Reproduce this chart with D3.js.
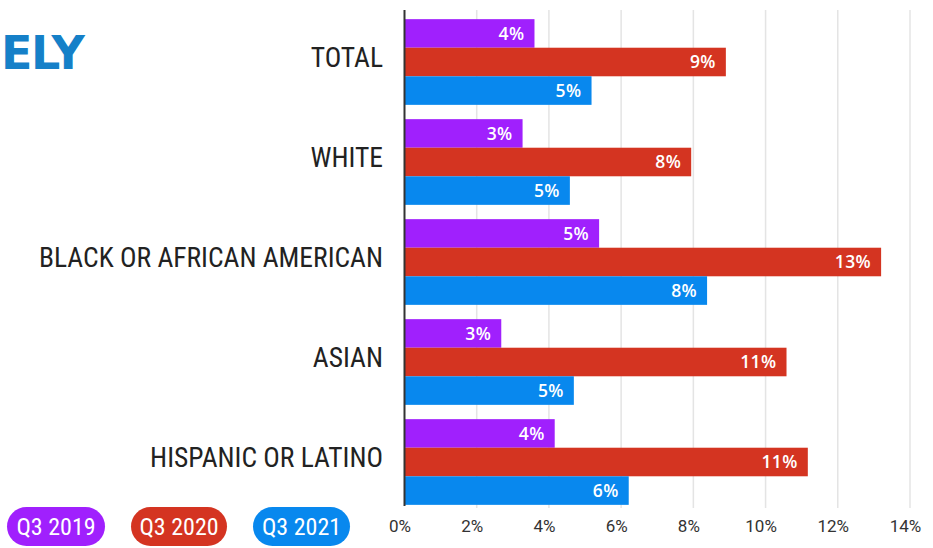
<!DOCTYPE html>
<html>
<head>
<meta charset="utf-8">
<script src="https://cdn.jsdelivr.net/npm/d3@7"></script>
<style>
  html, body { margin: 0; padding: 0; background: #fff; overflow: hidden; }
  svg { display: block; }
</style>
</head>
<body>
<svg id="chart" width="933" height="548"></svg>
<script>
const categories = ["TOTAL", "WHITE", "BLACK OR AFRICAN AMERICAN", "ASIAN", "HISPANIC OR LATINO"];
const seriesNames = ["Q3 2019", "Q3 2020", "Q3 2021"];
const q3_2019 = [3.6, 3.27, 5.39, 2.68, 4.16];
const q3_2020 = [8.9, 7.94, 13.2, 10.58, 11.17];
const q3_2021 = [5.18, 4.58, 8.38, 4.69, 6.21];
const xTicks = [0, 2, 4, 6, 8, 10, 12, 14];
const colors = ["#a020fd", "#d43421", "#0888ee"];

const seriesValues = [q3_2019, q3_2020, q3_2021];
const svg = d3.select("#chart");

const x = d3.scaleLinear().domain([0, 14]).range([404.5, 910]);
const y = d3.scaleBand().domain(categories).range([12, 512]).paddingInner(0.143).paddingOuter(0.0715);
const ySub = d3.scaleBand().domain(seriesNames).range([0, y.bandwidth()]);

// logo fragment
svg.append("text")
  .attr("x", 1).attr("y", 69)
  .attr("font-family", "'DejaVu Sans', sans-serif")
  .attr("font-weight", 700)
  .attr("font-size", 46)
  .attr("fill", "#1580c8")
  .attr("letter-spacing", -1.5)
  .text("ELY");

// gridlines
svg.append("g").selectAll("line").data(xTicks.filter(d => d > 0)).join("line")
  .attr("x1", d => x(d)).attr("x2", d => x(d))
  .attr("y1", 10).attr("y2", 508)
  .attr("stroke", "#e4e4e4").attr("stroke-width", 1.5);

// x axis tick labels
const xAxis = d3.axisBottom(x).tickValues(xTicks).tickSize(0).tickFormat(d => d + "%");
const gx = svg.append("g").attr("transform", "translate(-5,517)").call(xAxis);
gx.select(".domain").remove();
gx.selectAll("text")
  .attr("font-family", "'Liberation Sans Narrow', 'Roboto', sans-serif")
  .attr("font-size", 17)
  .attr("fill", "#333");

// bars
const groups = svg.append("g").selectAll("g").data(categories).join("g")
  .attr("transform", d => `translate(0,${y(d)})`);

groups.each(function(cat, ci) {
  const g = d3.select(this);
  seriesNames.forEach((s, si) => {
    const v = seriesValues[si][ci];
    g.append("rect")
      .attr("x", x(0)).attr("y", ySub(s))
      .attr("width", x(v) - x(0)).attr("height", ySub.bandwidth())
      .attr("fill", colors[si]);
    g.append("text")
      .attr("x", x(v) - 10).attr("y", ySub(s) + ySub.bandwidth() / 2)
      .attr("dy", "0.36em")
      .attr("text-anchor", "end")
      .attr("font-family", "'Open Sans', Lato, sans-serif")
      .attr("font-weight", 600)
      .attr("font-size", 17.5)
      .attr("letter-spacing", 0.4)
      .attr("fill", "#fff")
      .text(Math.round(v) + "%");
  });
});

// y axis line
svg.append("line")
  .attr("x1", x(0)).attr("x2", x(0))
  .attr("y1", 10).attr("y2", 506)
  .attr("stroke", "#333").attr("stroke-width", 2);

// category labels
const yAxis = d3.axisLeft(y).tickSize(0).tickPadding(0);
const gy = svg.append("g").attr("transform", "translate(383,-4)").call(yAxis);
gy.select(".domain").remove();
gy.selectAll("text")
  .attr("font-family", "'Liberation Sans Narrow', 'Roboto Condensed', sans-serif")
  .attr("font-size", 27.5)
  .attr("fill", "#222");

// legend pills
const legendX = [7, 131, 253];
const legendW = [98, 96, 97];
const lg = svg.append("g").selectAll("g").data(seriesNames).join("g")
  .attr("transform", (d, i) => `translate(${legendX[i]},507)`);
lg.append("rect")
  .attr("width", (d, i) => legendW[i]).attr("height", 39)
  .attr("rx", 19.5)
  .attr("fill", (d, i) => colors[i]);
lg.append("text")
  .attr("x", (d, i) => legendW[i] / 2).attr("y", 19.5)
  .attr("dy", "0.36em")
  .attr("text-anchor", "middle")
  .attr("font-family", "'Liberation Sans Narrow', 'Roboto Condensed', sans-serif")
  .attr("font-size", 24)
  .attr("fill", "#fff")
  .text(d => d);
</script>
</body>
</html>
